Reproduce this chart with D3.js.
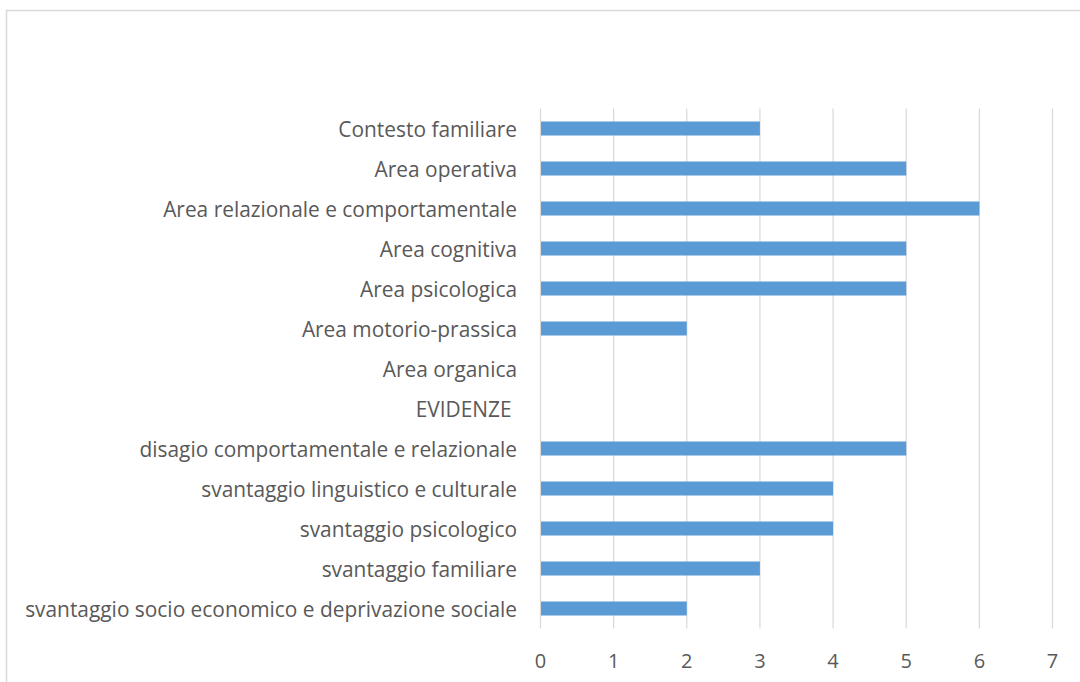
<!DOCTYPE html>
<html>
<head>
<meta charset="utf-8">
<script src="https://cdn.jsdelivr.net/npm/d3@7/dist/d3.min.js"></script>
<style>
  html, body { margin: 0; padding: 0; background: #fff; }
  svg { display: block; }
  text { font-family: "Open Sans", "Noto Sans", sans-serif; fill: #595959; white-space: pre; }
</style>
</head>
<body>
<svg id="chart" width="1080" height="682"></svg>
<script>
const categories = [
  "Contesto familiare",
  "Area operativa",
  "Area relazionale e comportamentale",
  "Area cognitiva",
  "Area psicologica",
  "Area motorio-prassica",
  "Area organica",
  "EVIDENZE ",
  "disagio comportamentale e relazionale",
  "svantaggio linguistico e culturale",
  "svantaggio psicologico",
  "svantaggio familiare",
  "svantaggio socio economico e deprivazione sociale"
];
const values = [3, 5, 6, 5, 5, 2, 0, 0, 5, 4, 4, 3, 2];
const xTicks = [0, 1, 2, 3, 4, 5, 6, 7];

const svg = d3.select("#chart");

// outer chart border (cropped at right and bottom)
svg.append("rect")
  .attr("x", 6.5).attr("y", 10.5)
  .attr("width", 1200).attr("height", 800)
  .attr("fill", "none").attr("stroke", "#d9d9d9").attr("stroke-width", 1.5);

const x = d3.scaleLinear().domain([0, 7]).range([540.5, 1052.5]);
const y = d3.scaleBand().domain(categories).range([108.5, 628.5])
  .paddingInner(0.65).paddingOuter(0.325);

// gridlines
svg.append("g").selectAll("line").data(xTicks).join("line")
  .attr("x1", d => x(d)).attr("x2", d => x(d))
  .attr("y1", 108.5).attr("y2", 628.5)
  .attr("stroke", "#d9d9d9").attr("stroke-width", 1.2);

// bars
svg.append("g").selectAll("rect").data(categories).join("rect")
  .attr("x", x(0) + 0.5)
  .attr("y", d => y(d))
  .attr("width", (d, i) => Math.max(0, x(values[i]) - x(0) - 0.5))
  .attr("height", y.bandwidth())
  .attr("fill", "#5b9bd5");

// category labels
const labelSize = 18;
const labels = svg.append("g").selectAll("text").data(categories).join("text")
  .attr("x", 517)
  .attr("y", d => y(d) + y.bandwidth() / 2)
  .attr("text-anchor", "end")
  .attr("dominant-baseline", "central")
  .style("font-size", labelSize + "px")
  .text(d => d);

// fit longest label to reference width (~492px)
let maxW = 0;
labels.each(function() { maxW = Math.max(maxW, this.getComputedTextLength()); });
if (maxW > 0) {
  const fs = labelSize * 492 / maxW;
  labels.style("font-size", fs + "px");
}

// x tick labels
svg.append("g").selectAll("text").data(xTicks).join("text")
  .attr("x", d => x(d))
  .attr("y", 660)
  .attr("text-anchor", "middle")
  .attr("dominant-baseline", "central")
  .style("font-size", "20px")
  .text(d => d);
</script>
</body>
</html>
